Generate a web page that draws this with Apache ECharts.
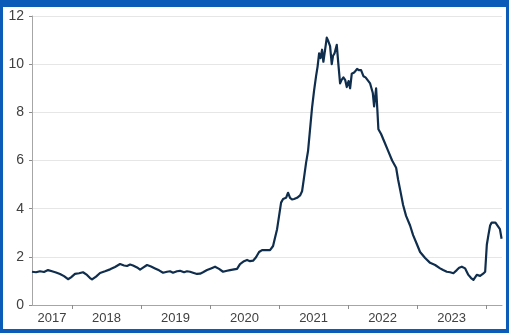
<!DOCTYPE html>
<html>
<head>
<meta charset="utf-8">
<script src="https://cdn.jsdelivr.net/npm/echarts@6/dist/echarts.min.js"></script>
<style>
    html, body {
        margin: 0;
        padding: 0;
        background: #ffffff;
    }

    #frame {
        position: relative;
        width: 509px;
        height: 333px;
        background: #0a5cb8;
        overflow: hidden;
    }

    #chart {
        position: absolute;
        left: 3px;
        top: 7px;
        width: 503px;
        height: 322px;
        background: #ffffff;
    }
</style>
</head>
<body>
<div id="frame">
    <div id="chart"></div>
</div>

<script>
// x positions are decimal years (2017.5 = mid 2017)
const years = [
    2017.420, 2017.478, 2017.536, 2017.594, 2017.652, 2017.710, 2017.768, 2017.826, 2017.884, 2017.942,
    2017.985, 2018.043, 2018.101, 2018.159, 2018.217, 2018.261, 2018.290, 2018.348, 2018.406, 2018.478,
    2018.551, 2018.623, 2018.696, 2018.754, 2018.797, 2018.841, 2018.884, 2018.942, 2018.986, 2019.029,
    2019.087, 2019.145, 2019.203, 2019.261, 2019.319, 2019.377, 2019.420, 2019.463, 2019.521, 2019.565,
    2019.623, 2019.666, 2019.710, 2019.753, 2019.811, 2019.855, 2019.898, 2019.956, 2020.014, 2020.072,
    2020.130, 2020.188, 2020.246, 2020.290, 2020.348, 2020.391, 2020.434, 2020.492, 2020.536, 2020.579,
    2020.623, 2020.666, 2020.710, 2020.753, 2020.811, 2020.869, 2020.913, 2020.942, 2020.971, 2021.000,
    2021.029, 2021.058, 2021.101, 2021.130, 2021.159, 2021.188, 2021.217, 2021.261, 2021.304, 2021.333,
    2021.362, 2021.391, 2021.420, 2021.449, 2021.478, 2021.507, 2021.536, 2021.558, 2021.580, 2021.601,
    2021.623, 2021.642, 2021.667, 2021.691, 2021.714, 2021.739, 2021.763, 2021.782, 2021.804, 2021.836,
    2021.859, 2021.884, 2021.906, 2021.932, 2021.957, 2021.981, 2022.007, 2022.029, 2022.053, 2022.087,
    2022.130, 2022.159, 2022.188, 2022.222, 2022.253, 2022.279, 2022.319, 2022.358, 2022.377, 2022.406,
    2022.424, 2022.439, 2022.478, 2022.522, 2022.580, 2022.638, 2022.696, 2022.725, 2022.753, 2022.797,
    2022.840, 2022.898, 2022.942, 2023.000, 2023.043, 2023.116, 2023.188, 2023.261, 2023.333, 2023.377,
    2023.430, 2023.478, 2023.526, 2023.575, 2023.609, 2023.648, 2023.696, 2023.743, 2023.782, 2023.816,
    2023.865, 2023.913, 2023.957, 2023.986, 2024.010, 2024.033, 2024.058, 2024.080, 2024.103, 2024.135,
    2024.161, 2024.200, 2024.224
];

const values = [
    1.38, 1.36, 1.40, 1.37, 1.45, 1.40, 1.35, 1.29, 1.20, 1.07,
    1.15, 1.29, 1.32, 1.36, 1.25, 1.12, 1.06, 1.18, 1.33, 1.40,
    1.48, 1.58, 1.70, 1.64, 1.62, 1.68, 1.64, 1.56, 1.47, 1.55,
    1.66, 1.60, 1.52, 1.44, 1.34, 1.38, 1.40, 1.34, 1.40, 1.42,
    1.36, 1.40, 1.38, 1.34, 1.29, 1.30, 1.36, 1.45, 1.52, 1.59,
    1.50, 1.38, 1.42, 1.45, 1.48, 1.50, 1.70, 1.82, 1.87, 1.82,
    1.84, 1.98, 2.20, 2.28, 2.28, 2.28, 2.45, 2.80, 3.15, 3.70,
    4.25, 4.40, 4.45, 4.66, 4.45, 4.38, 4.40, 4.45, 4.55, 4.72,
    5.30, 5.90, 6.40, 7.30, 8.20, 8.90, 9.50, 9.90, 10.45, 10.25,
    10.60, 10.10, 10.60, 11.10, 10.95, 10.75, 10.00, 10.35, 10.45, 10.80,
    10.00, 9.20, 9.35, 9.45, 9.35, 9.05, 9.30, 9.00, 9.60, 9.65,
    9.80, 9.75, 9.75, 9.50, 9.45, 9.40, 9.20, 8.80, 8.25, 9.00,
    8.10, 7.30, 7.10, 6.80, 6.40, 6.00, 5.70, 5.20, 4.80, 4.15,
    3.70, 3.30, 2.90, 2.50, 2.20, 1.95, 1.75, 1.66, 1.52, 1.45,
    1.38, 1.36, 1.32, 1.45, 1.55, 1.59, 1.52, 1.25, 1.12, 1.04,
    1.25, 1.21, 1.30, 1.38, 2.50, 2.90, 3.30, 3.42, 3.45, 3.42,
    3.36, 3.15, 2.75
];

const yearLabels = ['2017', '2018', '2019', '2020', '2021', '2022', '2023'];
const yearBreaks = [2018, 2019, 2020, 2021, 2022, 2023, 2024];

const xMin = 2017.42;
const xMax = 2024.23;

// label sits in the middle of the visible part of each year
const labelPos = yearLabels.map(function (y) {
    let start = Math.max(Number(y), xMin);
    let end = Math.min(Number(y) + 1, xMax);
    return (start + end) / 2;
});

let chart = echarts.init(document.getElementById('chart'));

chart.setOption({
    animation: false,
    grid: {
        left: 29,
        right: 4,
        top: 9,
        bottom: 24
    },
    xAxis: {
        type: 'value',
        min: xMin,
        max: xMax,
        splitLine: { show: false },
        axisLine: {
            show: true,
            lineStyle: { color: '#a6a6a6', width: 1 }
        },
        axisTick: {
            show: true,
            length: 4,
            customValues: yearBreaks,
            lineStyle: { color: '#8c8c8c' }
        },
        axisLabel: {
            customValues: labelPos,
            margin: 7,
            color: '#404040',
            fontSize: 13,
            fontFamily: 'Liberation Sans',
            formatter: function (v) {
                return String(Math.floor(v));
            }
        }
    },
    yAxis: {
        type: 'value',
        min: 0,
        max: 12,
        interval: 2,
        axisLine: {
            show: true,
            lineStyle: { color: '#a6a6a6', width: 1 }
        },
        axisTick: {
            show: true,
            length: 3,
            lineStyle: { color: '#8c8c8c' }
        },
        splitLine: {
            show: true,
            lineStyle: { color: '#e6e6e6', width: 1 }
        },
        axisLabel: {
            margin: 8,
            color: '#404040',
            fontSize: 14,
            fontFamily: 'Liberation Sans'
        }
    },
    series: [{
        type: 'line',
        data: years.map(function (x, i) { return [x, values[i]]; }),
        showSymbol: false,
        smooth: false,
        lineStyle: {
            color: '#0f2d4d',
            width: 2.2,
            join: 'round'
        }
    }]
});
</script>
</body>
</html>
